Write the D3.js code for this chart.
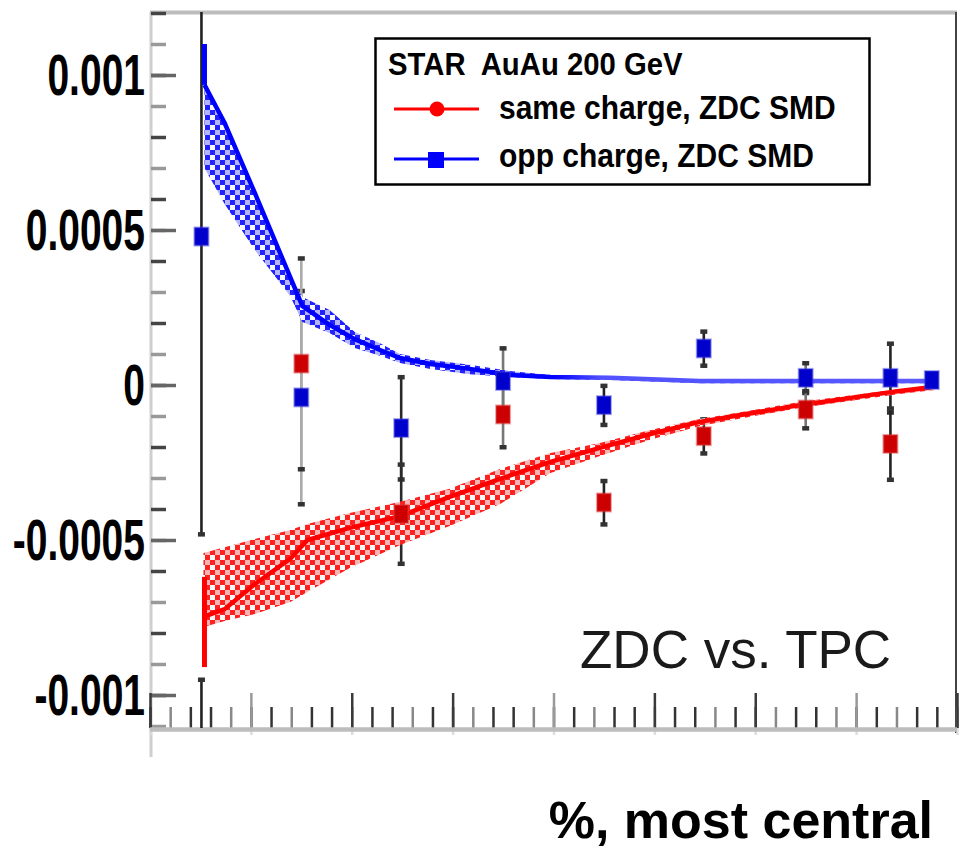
<!DOCTYPE html>
<html>
<head>
<meta charset="utf-8">
<script src="https://cdn.jsdelivr.net/npm/d3@7"></script>
<style>
  html, body { margin: 0; padding: 0; background: #fff; }
  svg { display: block; }
  text { font-family: "Liberation Sans", Arial, Helvetica, sans-serif; }
</style>
</head>
<body>
<script>
// Centrality bins (% most central) and the charge-dependent correlator values
const cent = [5.1, 15.0, 24.9, 35.0, 45.0, 54.9, 65.0, 73.4, 77.5];
const sameCharge = [-0.00125, 0.000069, -0.000416, -0.000095, -0.000379, -0.000165, -0.000079, -0.00019, null];
const sameErr    = [0.0003, 0.00034, 0.00016, 0.000105, 0.00007, 0.000055, 0.00006, 0.000115, null];
const oppCharge  = [0.000479, -0.00004, -0.000139, 0.000013, -0.000065, 0.000118, 0.000023, 0.000023, 0.000016];
const oppErr     = [0.00096, 0.000344, 0.000165, 0.000106, 0.000063, 0.000055, 0.000048, 0.000111, 0];

// Systematic bands (same charge)
const sameSysCent = [5.3, 7.4, 10.4, 13.9, 15.6, 19.8, 24.8, 29.7, 34.7, 39.7, 44.6, 49.6, 54.5, 64.4, 74.3, 77.8];
const sameSysHigh = [-0.000542, -0.000523, -0.000497, -0.000468, -0.000448, -0.000413, -0.000377, -0.000335, -0.000271, -0.000219, -0.000187, -0.000145, -0.00011, -0.000055, -0.000013, 0.0];
const sameSysMid  = [-0.000748, -0.000723, -0.000642, -0.000561, -0.0005, -0.000461, -0.000423, -0.000361, -0.000303, -0.000248, -0.000203, -0.000158, -0.000119, -0.000065, -0.000019, -0.000006];
const sameSysLow  = [-0.000781, -0.000761, -0.000739, -0.0007, -0.000668, -0.00059, -0.000516, -0.000455, -0.000384, -0.000284, -0.000229, -0.000177, -0.000132, -0.000074, -0.000029, -0.000016];
const sameSysFirst = [-0.00091, -0.000619];

// Systematic bands (opposite charge)
const oppSysCent = [5.4, 7.4, 10.4, 13.9, 15.1, 17.8, 20.3, 22.8, 24.8, 27.8, 31.7, 35.7, 39.7, 45.6, 54.5, 77.8];
const oppSysHigh = [0.000968, 0.000845, 0.000619, 0.000348, 0.000284, 0.000242, 0.000171, 0.000135, 0.0001, 0.000081, 0.000065, 0.000045, 0.000032, 0.000026, 0.000016, 0.000016];
const oppSysMid  = [0.000968, 0.000845, 0.000619, 0.000348, 0.000255, 0.000194, 0.000148, 0.000113, 0.000087, 0.000068, 0.000052, 0.000032, 0.000026, 0.000023, 0.000013, 0.000013];
const oppSysLow  = [0.0007, 0.000584, 0.000435, 0.000287, 0.000203, 0.000168, 0.000119, 0.000094, 0.000071, 0.000052, 0.000035, 0.000026, 0.000019, 0.000016, 0.000006, 0.000006];
const oppSysFirst = [0.000968, 0.0011];

// Axis ticks
const yTickValues = [0.001, 0.0005, 0, -0.0005, -0.001];
const yTickLabels = ["0.001", "0.0005", "0", "-0.0005", "-0.001"];
const yMinorTicks = d3.range(-11, 13).map(i => i / 10000);
const xMajorTicks = [0, 10, 20, 30, 40, 50, 60, 70, 80];
const xMinorTicks = d3.range(0, 81, 2);

// Error-bar tones per bin
const barTone = ["#222", "#aaa", "#2a2a2a", "#777", "#222", "#222", "#777", "#222", "#222"];

const W = 965, H = 850;
const frame = { left: 151, right: 957, top: 12, bottom: 728 };

const x = d3.scaleLinear().domain([0, 80]).range([150, 957]);
const y = d3.scaleLinear().domain([-0.001, 0.001]).range([695, 75]);

const svg = d3.select("body").append("svg").attr("width", W).attr("height", H);
const defs = svg.append("defs");

defs.append("clipPath").attr("id", "plotClip")
  .append("rect").attr("x", frame.left).attr("y", frame.top)
  .attr("width", frame.right - frame.left).attr("height", frame.bottom - frame.top);

// Checkered fill used for the systematic bands
function checker(id, strong, mid, light) {
  const p = defs.append("pattern").attr("id", id).attr("patternUnits", "userSpaceOnUse")
    .attr("width", 10).attr("height", 10);
  p.append("rect").attr("width", 10).attr("height", 10).attr("fill", light);
  p.append("rect").attr("x", 0).attr("y", 0).attr("width", 5).attr("height", 5).attr("fill", strong);
  p.append("rect").attr("x", 5).attr("y", 5).attr("width", 5).attr("height", 5).attr("fill", strong);
  p.append("rect").attr("x", 5).attr("y", 0).attr("width", 5).attr("height", 5).attr("fill", mid);
}
checker("hatchRed", "#ff2020", "#f6b4b4", "#f3fbfb");
checker("hatchBlue", "#2222ff", "#b4b4ff", "#f7f7ff");

const blueGrad = defs.append("linearGradient").attr("id", "blueLine")
  .attr("gradientUnits", "userSpaceOnUse").attr("x1", 150).attr("x2", 957).attr("y1", 0).attr("y2", 0);
blueGrad.append("stop").attr("offset", "0.5").attr("stop-color", "#0000ff");
blueGrad.append("stop").attr("offset", "0.56").attr("stop-color", "#5252ff");
blueGrad.append("stop").attr("offset", "1").attr("stop-color", "#5a5aff");

// Frame
svg.append("line").attr("x1", 151).attr("x2", 151).attr("y1", frame.top).attr("y2", 757)
  .attr("stroke", "#cfcfcf").attr("stroke-width", 3);
svg.append("line").attr("x1", 150).attr("x2", 957).attr("y1", 12.5).attr("y2", 12.5)
  .attr("stroke", "#bdbdbd").attr("stroke-width", 4);
svg.append("line").attr("x1", 956).attr("x2", 956).attr("y1", frame.top).attr("y2", 733)
  .attr("stroke", "#444").attr("stroke-width", 2);

// Y axis ticks pointing inward
const yMinor = svg.append("g").attr("transform", "translate(151,0)")
  .call(d3.axisRight(y).tickValues(yMinorTicks).tickSize(15).tickFormat(""));
const yMajor = svg.append("g").attr("transform", "translate(151,0)")
  .call(d3.axisRight(y).tickValues(yTickValues).tickSize(25).tickFormat(""));
[yMinor, yMajor].forEach(g => {
  g.select(".domain").remove();
  g.selectAll(".tick line").attr("stroke", "#666").attr("stroke-width", 3.5);
});
yMinor.selectAll(".tick line").attr("stroke", (d, i) => i % 2 ? "#444" : "#999");

// Y tick labels (tall, condensed bold digits)
yTickValues.forEach((v, i) => {
  svg.append("g").attr("transform", `translate(145,${y(v)}) scale(1,1.45)`)
    .append("text").attr("text-anchor", "end").attr("y", 14)
    .attr("font-size", 39).attr("font-weight", "bold").attr("fill", "#000")
    .text(yTickLabels[i]);
});

// X axis ticks pointing up from the bottom axis
const xMinor = svg.append("g").attr("transform", `translate(0,${frame.bottom})`)
  .call(d3.axisTop(x).tickValues(xMinorTicks).tickSize(21).tickFormat(""));
const xMajor = svg.append("g").attr("transform", `translate(0,${frame.bottom})`)
  .call(d3.axisTop(x).tickValues(xMajorTicks).tickSize(35).tickFormat(""));
const xStub = svg.append("g").attr("transform", `translate(0,${frame.bottom})`)
  .call(d3.axisBottom(x).tickValues(xMajorTicks).tickSize(7).tickFormat(""));
[xMinor, xMajor, xStub].forEach(g => g.select(".domain").remove());
xMinor.selectAll(".tick line").attr("stroke", (d, i) => i % 3 === 1 ? "#888" : "#333").attr("stroke-width", 2.5);
xMajor.selectAll(".tick line").attr("stroke", (d, i) => i % 3 === 1 ? "#999" : "#3a3a3a").attr("stroke-width", 2.5);
xStub.selectAll(".tick line").attr("stroke", "#ddd").attr("stroke-width", 2.5);
svg.append("line").attr("x1", 150).attr("x2", 957).attr("y1", 729.5).attr("y2", 729.5)
  .attr("stroke", "#bdbdbd").attr("stroke-width", 4.5);

// Plot content, clipped to the frame
const plot = svg.append("g").attr("clip-path", "url(#plotClip)");

// Statistical error bars
function errorBars(vals, errs) {
  vals.forEach((v, i) => {
    if (v == null || !errs[i]) return;
    const cx = x(cent[i]);
    const y1 = y(v + errs[i]), y2 = y(v - errs[i]);
    plot.append("line").attr("x1", cx).attr("x2", cx).attr("y1", y1).attr("y2", y2)
      .attr("stroke", barTone[i]).attr("stroke-width", 2.6);
    [y1, y2].forEach(yy => plot.append("rect")
      .attr("x", cx - 3.5).attr("y", yy - 2).attr("width", 7).attr("height", 4.5)
      .attr("fill", "#333"));
  });
}
errorBars(oppCharge, oppErr);
errorBars(sameCharge, sameErr);

// Systematic bands
const bandRed = sameSysCent.map((c, i) => ({ c, lo: sameSysLow[i], hi: sameSysHigh[i], mid: sameSysMid[i] }));
const bandBlue = oppSysCent.map((c, i) => ({ c, lo: oppSysLow[i], hi: oppSysHigh[i], mid: oppSysMid[i] }));
const area = d3.area().x(d => x(d.c)).y0(d => y(d.lo)).y1(d => y(d.hi));
const mid = d3.line().x(d => x(d.c)).y(d => y(d.mid));

plot.append("path").datum(bandBlue).attr("d", area).attr("fill", "url(#hatchBlue)");
plot.append("path").datum(bandRed).attr("d", area).attr("fill", "url(#hatchRed)");

plot.append("path").datum(bandBlue).attr("d", mid).attr("fill", "none")
  .attr("stroke", "url(#blueLine)").attr("stroke-width", 4.5);
plot.append("path").datum(bandRed).attr("d", mid).attr("fill", "none")
  .attr("stroke", "#ff0000").attr("stroke-width", 4.5);

plot.append("line").attr("x1", x(oppSysCent[0])).attr("x2", x(oppSysCent[0]))
  .attr("y1", y(oppSysFirst[0])).attr("y2", y(oppSysFirst[1]))
  .attr("stroke", "#0000ff").attr("stroke-width", 5);
plot.append("line").attr("x1", x(oppSysCent[0])).attr("x2", x(oppSysCent[0]))
  .attr("y1", y(sameSysFirst[0])).attr("y2", y(sameSysFirst[1]))
  .attr("stroke", "#ff0000").attr("stroke-width", 5);

// Markers
function markers(vals, fill, halo) {
  vals.forEach((v, i) => {
    if (v == null) return;
    plot.append("rect").attr("x", x(cent[i]) - 7).attr("y", y(v) - 9)
      .attr("width", 14).attr("height", 18)
      .attr("fill", fill).attr("stroke", halo).attr("stroke-width", 2);
  });
}
markers(sameCharge, "#cc0000", "rgba(220,60,60,0.45)");
markers(oppCharge, "#0000cc", "rgba(60,60,220,0.45)");

// Legend
const lg = svg.append("g");
lg.append("rect").attr("x", 375.5).attr("y", 38.5).attr("width", 494).attr("height", 146)
  .attr("fill", "#fff").attr("stroke", "#000").attr("stroke-width", 2.5);
function legendText(tx, ty, size, str) {
  lg.append("g").attr("transform", `translate(${tx},${ty}) scale(1,1.1)`)
    .append("text").attr("font-size", size).attr("font-weight", "bold")
    .style("white-space", "pre").text(str);
}
legendText(388, 75, 29.3, "STAR  AuAu 200 GeV");
lg.append("line").attr("x1", 394).attr("x2", 479).attr("y1", 109).attr("y2", 109)
  .attr("stroke", "#ff0000").attr("stroke-width", 3);
lg.append("circle").attr("cx", 437).attr("cy", 109).attr("r", 7.5).attr("fill", "#ff0000");
legendText(499, 119, 30, "same charge, ZDC SMD");
lg.append("line").attr("x1", 394).attr("x2", 479).attr("y1", 159).attr("y2", 159)
  .attr("stroke", "#0000ff").attr("stroke-width", 3);
lg.append("rect").attr("x", 428).attr("y", 152).attr("width", 16).attr("height", 16).attr("fill", "#0000ff");
legendText(499, 167, 30, "opp charge, ZDC SMD");

// Annotation and axis title
svg.append("text").attr("x", 580).attr("y", 668).attr("font-size", 53).attr("fill", "#1a1a1a")
  .text("ZDC vs. TPC");
svg.append("text").attr("x", 933).attr("y", 838).attr("text-anchor", "end")
  .attr("font-size", 52).attr("font-weight", "bold").attr("fill", "#000")
  .text("%, most central");
</script>
</body>
</html>
